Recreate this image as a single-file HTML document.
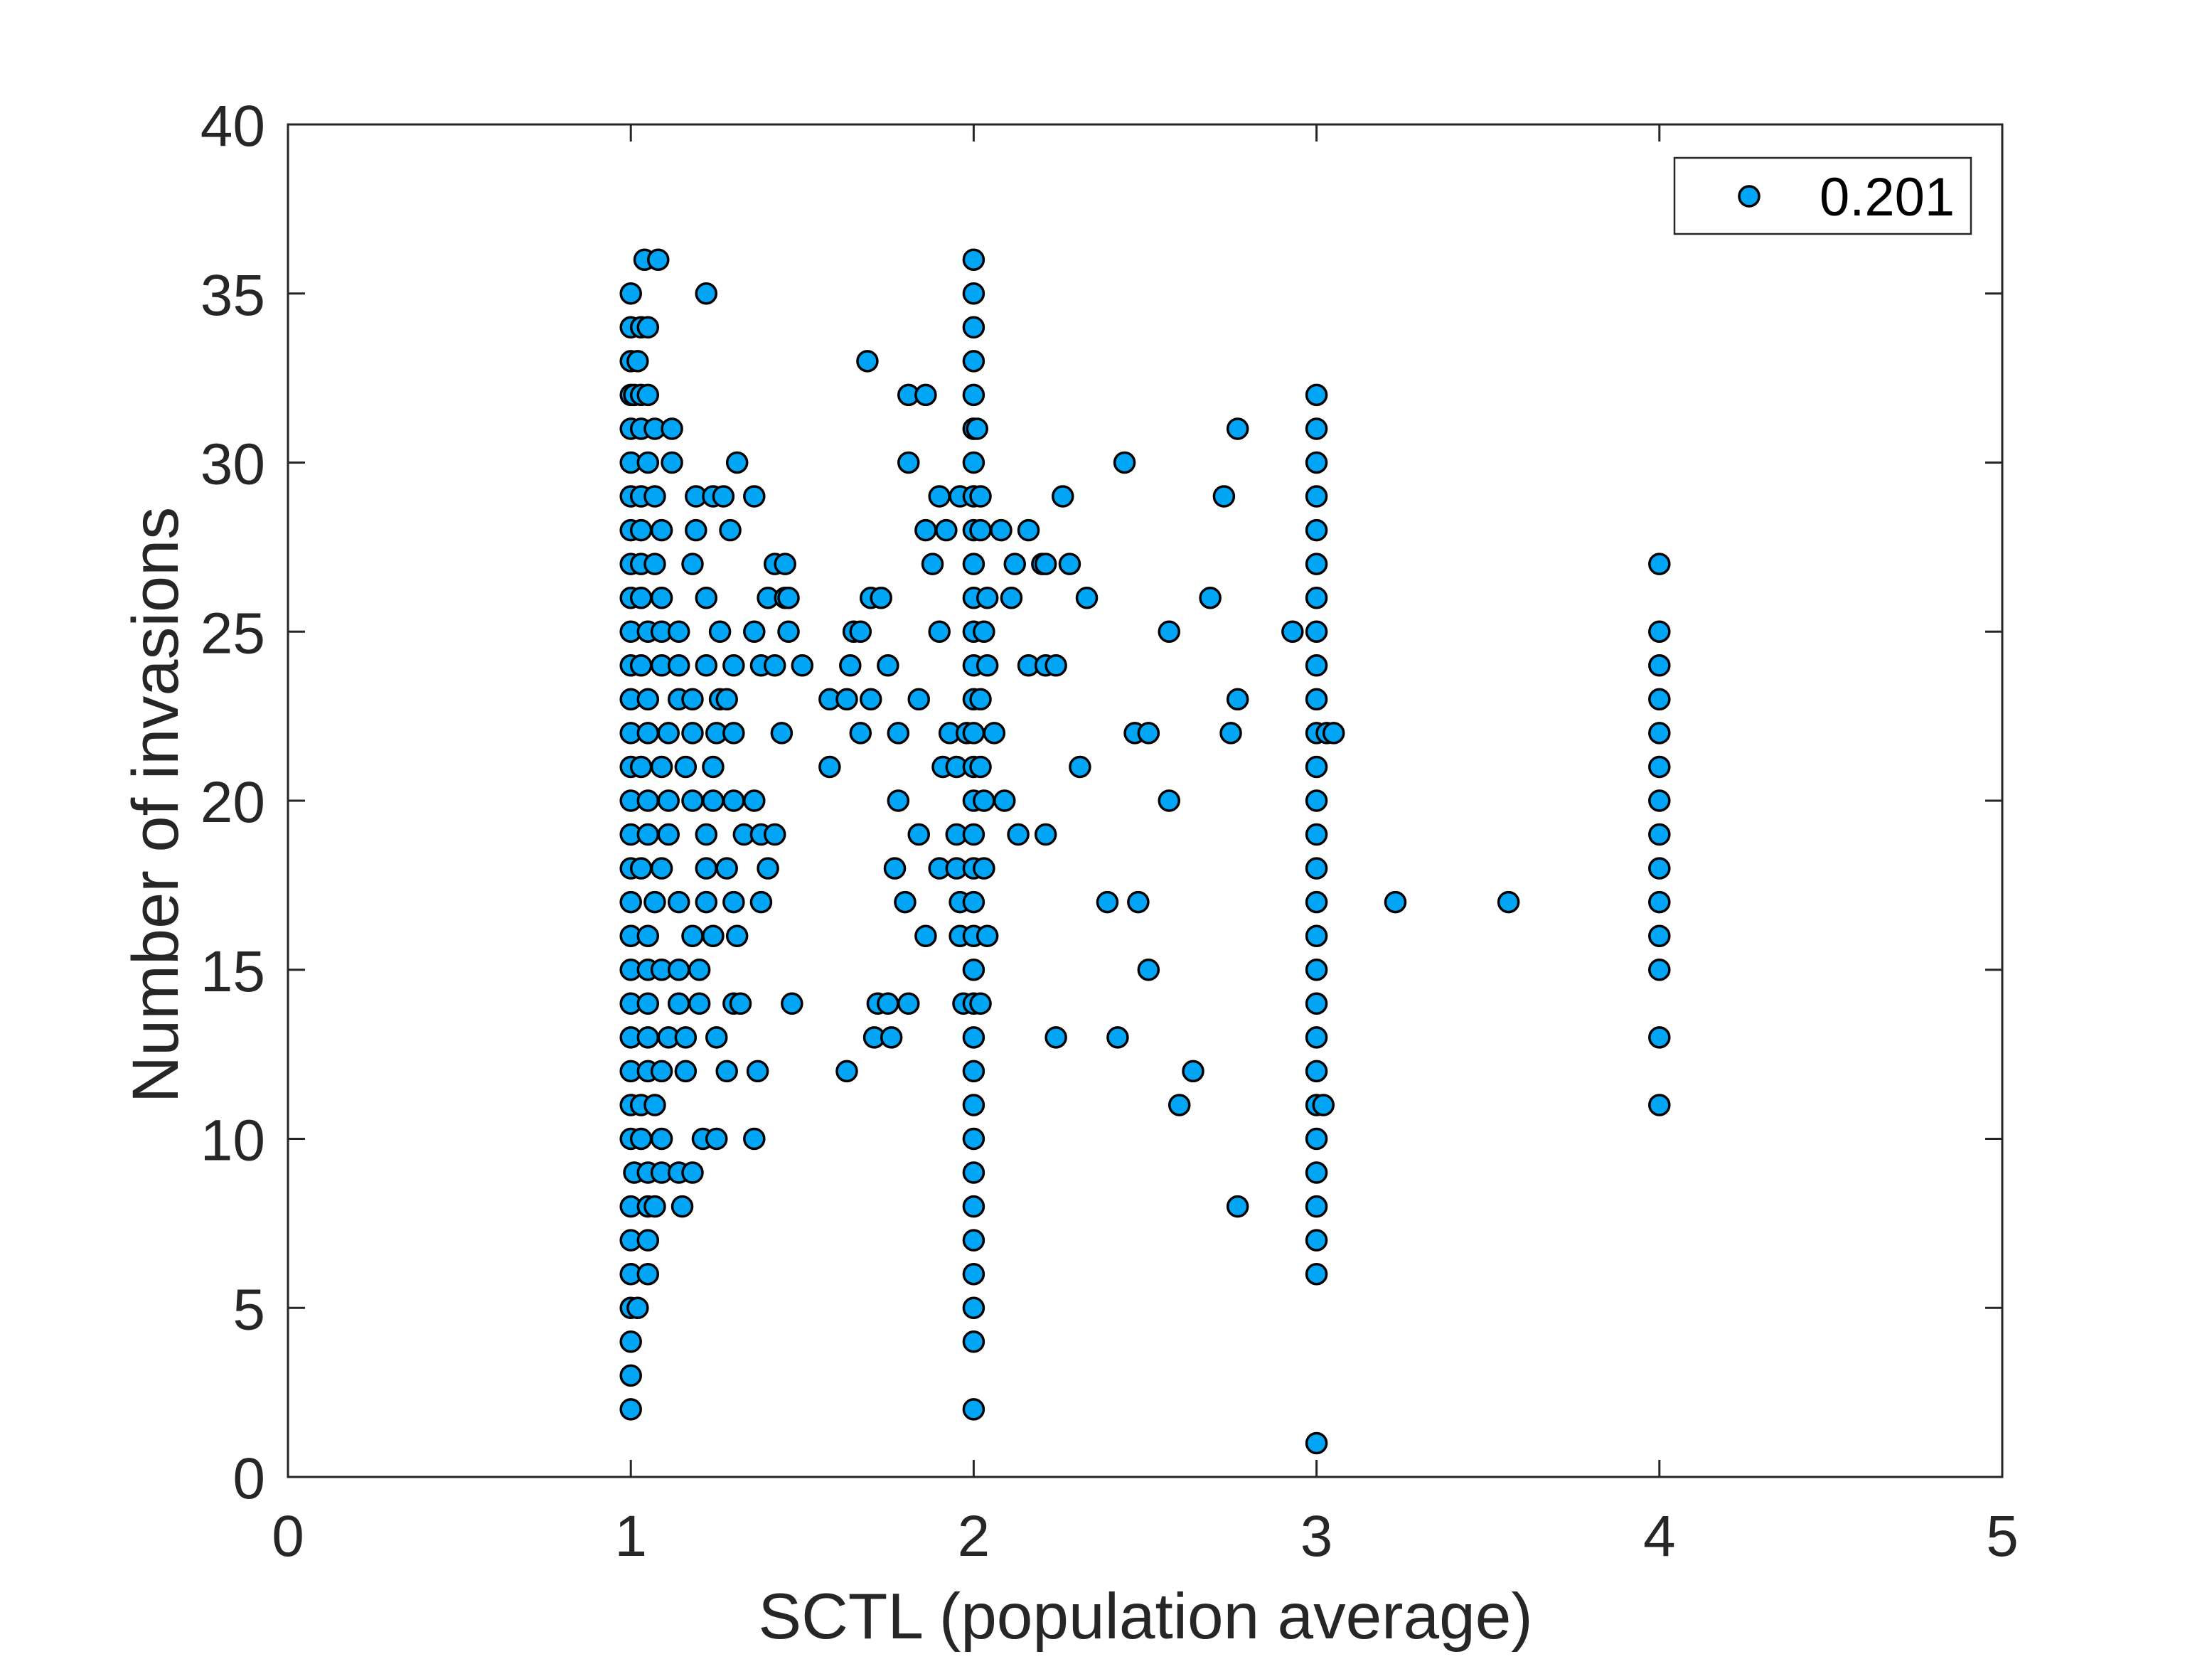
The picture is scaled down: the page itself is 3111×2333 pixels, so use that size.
<!DOCTYPE html>
<html><head><meta charset="utf-8"><style>
html,body{margin:0;padding:0;background:#fff;}
svg{display:block;font-family:"Liberation Sans",Arial,sans-serif;}
</style></head><body>
<svg id="chart" width="3111" height="2333" viewBox="0 0 3111 2333" xmlns="http://www.w3.org/2000/svg">
<rect x="0" y="0" width="3111" height="2333" fill="#fff"/>
<g id="marks"></g>
<g id="axes"></g>
<text x="1611" y="2304" font-size="91" fill="#262626" text-anchor="middle">SCTL (population average)</text>
<text transform="translate(250,1132) rotate(-90)" font-size="92" fill="#262626" text-anchor="middle">Number of invasions</text>
<g>
<rect x="2355" y="222" width="417" height="107" fill="#fff" stroke="#262626" stroke-width="2.5"/>
<circle cx="2460" cy="276" r="14" fill="#00a6f5" stroke="#000" stroke-width="3.5"/>
<text x="2559" y="303" font-size="76" fill="#000">0.201</text>
</g>
</svg>
<script>
const xTicks = [0,1,2,3,4,5];
const yTicks = [0,5,10,15,20,25,30,35,40];
const rowY = [36,35,34,33,32,31,30,29,28,27,26,25,24,23,22,21,20,19,18,17,16,15,14,13,12,11,10,9,8,7,6,5,4,3,2];
const rowX = [
 [1.04,1.08],
 [1.0,1.22],
 [1.0,1.03,1.05],
 [1.0,1.02,1.69],
 [1.0,1.01,1.03,1.05,1.81,1.86],
 [1.0,1.03,1.07,1.12],
 [1.0,1.05,1.12,1.31,1.81],
 [1.0,1.03,1.07,1.19,1.24,1.27,1.36,1.90,1.96],
 [1.0,1.03,1.09,1.19,1.29,1.86,1.92],
 [1.0,1.03,1.07,1.18,1.42,1.45,1.88],
 [1.0,1.03,1.09,1.22,1.40,1.45,1.46,1.70,1.73],
 [1.0,1.05,1.09,1.14,1.26,1.36,1.46,1.65,1.67,1.90],
 [1.0,1.03,1.09,1.14,1.22,1.30,1.38,1.42,1.50,1.64,1.75],
 [1.0,1.05,1.14,1.18,1.26,1.28,1.58,1.63,1.70,1.84],
 [1.0,1.05,1.11,1.18,1.25,1.30,1.44,1.67,1.78,1.93,1.98],
 [1.0,1.03,1.09,1.16,1.24,1.58,1.91,1.95],
 [1.0,1.05,1.11,1.18,1.24,1.30,1.36,1.78],
 [1.0,1.05,1.11,1.22,1.33,1.38,1.42,1.84,1.95],
 [1.0,1.03,1.09,1.22,1.28,1.40,1.77,1.90,1.95],
 [1.0,1.07,1.14,1.22,1.30,1.38,1.80,1.96],
 [1.0,1.05,1.18,1.24,1.31,1.86,1.96],
 [1.0,1.05,1.09,1.14,1.20],
 [1.0,1.05,1.14,1.20,1.30,1.32,1.47,1.72,1.75,1.81,1.97],
 [1.0,1.05,1.11,1.16,1.25,1.71,1.76],
 [1.0,1.05,1.09,1.16,1.28,1.37,1.63],
 [1.0,1.03,1.07],
 [1.0,1.03,1.09,1.21,1.25,1.36],
 [1.01,1.05,1.09,1.14,1.18],
 [1.0,1.05,1.07,1.15],
 [1.0,1.05],
 [1.0,1.05],
 [1.0,1.02],
 [1.0],[1.0],[1.0]
];
const col2Y = [2,4,5,6,7,8,9,10,11,12,13,14,15,16,17,18,19,20,21,22,23,24,25,26,27,28,29,30,31,32,33,34,35,36];
const col3Y = [1,6,7,8,9,10,11,12,13,14,15,16,17,18,19,20,21,22,23,24,25,26,27,28,29,30,31,32];
const col4Y = [11,13,15,16,17,18,19,20,21,22,23,24,25,27];
const extraX = [2.0,2.01,2.02,2.04,2.02,2.03,2.04,2.02,2.06,2.02,2.03,2.03,2.04,2.02,2.08,2.16,2.12,2.20,2.21,2.28,2.11,2.33,2.26,2.44,2.57,2.16,2.21,2.24,2.47,2.51,2.31,2.09,2.57,2.13,2.21,2.39,2.48,2.51,2.24,2.42,2.64,2.60,2.73,2.69,2.77,2.77,2.75,2.77,2.93,3.03,3.05,3.02,3.23,3.56];
const extraY = [31,31,28,26,29,25,24,23,22,21,20,18,16,14,28,28,27,27,27,27,26,26,29,30,25,24,24,24,22,22,21,20,20,19,19,17,17,15,13,13,12,11,29,26,31,23,22,8,25,22,22,11,17,17];

const L=405,R=2816,T=175,B=2077;
const xs = v => L + (v-0)/(5-0)*(R-L);
const ys = v => B - (v-0)/(40-0)*(B-T);
const NS="http://www.w3.org/2000/svg";
const marks=document.getElementById('marks');
function dot(x,y){
  const c=document.createElementNS(NS,'circle');
  c.setAttribute('cx',xs(x));c.setAttribute('cy',ys(y));c.setAttribute('r',14);
  c.setAttribute('fill','#00a6f5');c.setAttribute('stroke','#000');c.setAttribute('stroke-width',3.5);
  
  
  marks.appendChild(c);
}
rowY.forEach((y,i)=>rowX[i].forEach(x=>dot(x,y)));
col2Y.forEach(y=>dot(2,y));
col3Y.forEach(y=>dot(3,y));
col4Y.forEach(y=>dot(4,y));
extraX.forEach((x,i)=>dot(x,extraY[i]));

const axes=document.getElementById('axes');
function el(tag,attrs,name){
  const e=document.createElementNS(NS,tag);
  for(const k in attrs)e.setAttribute(k,attrs[k]);
  
  
  axes.appendChild(e);return e;
}
el('rect',{x:L,y:T,width:R-L,height:B-T,fill:'none',stroke:'#262626','stroke-width':3},'axes-box');
xTicks.forEach(v=>{
  const x=xs(v);
  el('line',{x1:x,y1:B,x2:x,y2:B-24,stroke:'#262626','stroke-width':3},'x-tick');
  el('line',{x1:x,y1:T,x2:x,y2:T+24,stroke:'#262626','stroke-width':3},'x-tick-top');
  const t=el('text',{x:x,y:2188,'font-size':82,fill:'#262626','text-anchor':'middle'},'x-tick-label');
  t.textContent=v;
});
yTicks.forEach(v=>{
  const y=ys(v);
  el('line',{x1:L,y1:y,x2:L+24,y2:y,stroke:'#262626','stroke-width':3},'y-tick');
  el('line',{x1:R,y1:y,x2:R-24,y2:y,stroke:'#262626','stroke-width':3},'y-tick-right');
  const t=el('text',{x:373,y:y+30,'font-size':82,fill:'#262626','text-anchor':'end'},'y-tick-label');
  t.textContent=v;
});
</script>
</body></html>
